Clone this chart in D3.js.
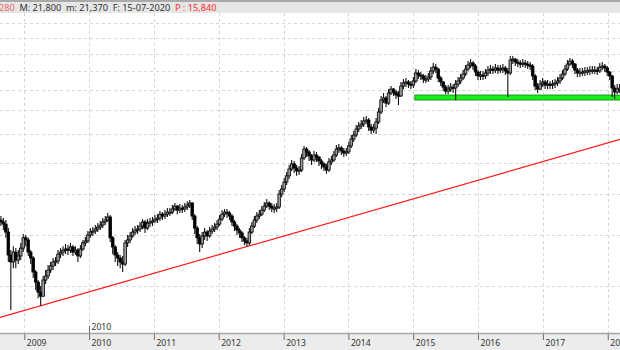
<!DOCTYPE html>
<html>
<head>
<meta charset="utf-8">
<script src="https://cdn.jsdelivr.net/npm/d3@7"></script>
<style>
  html, body { margin: 0; padding: 0; background: #fff; overflow: hidden; }
  svg { display: block; font-family: "Noto Sans", "DejaVu Sans", sans-serif; }
</style>
</head>
<body>
<svg id="chart" width="620" height="350"></svg>
<script>
// Two-week OHLC bars, first bar dated below; open of each bar is the prior close.
const firstBar = "2008-08-22";
const barDays = 14;
const firstOpen = 10.95;

const closes = [
  10.85, 10.74, 10.34, 9.27, 8.97, 9.40, 9.05, 9.23, 9.58, 10.06,
  9.96, 9.40, 9.14, 8.55, 8.15, 7.77, 7.62, 8.23, 8.39, 8.63,
  8.80, 8.97, 9.01, 9.31, 9.40, 9.49, 9.54, 9.49, 9.63, 9.40,
  9.49, 9.23, 9.54, 9.82, 9.91, 10.20, 10.34, 10.39, 10.49, 10.59,
  10.69, 10.85, 10.95, 11.11, 10.06, 9.63, 9.27, 9.14, 8.97, 8.88,
  9.82, 9.96, 10.15, 10.34, 10.44, 10.49, 10.64, 10.85, 10.54, 10.79,
  10.85, 10.90, 11.00, 11.05, 11.26, 11.16, 11.26, 11.37, 11.37, 11.54,
  11.70, 11.48, 11.59, 11.54, 11.65, 11.76, 11.87, 11.16, 10.54, 10.06,
  9.77, 10.15, 10.34, 10.15, 10.39, 10.49, 10.59, 10.74, 11.00, 11.26,
  11.37, 11.32, 11.16, 10.85, 10.64, 10.44, 10.30, 10.06, 9.91, 9.82,
  10.34, 10.64, 10.95, 11.16, 11.26, 11.48, 11.70, 11.87, 11.70, 11.59,
  11.59, 11.65, 12.39, 12.69, 13.12, 13.51, 13.96, 14.30, 14.03, 13.83,
  13.89, 14.71, 15.35, 15.14, 14.85, 14.57, 14.92, 14.78, 14.50, 14.30,
  14.09, 13.89, 14.43, 14.57, 14.92, 15.35, 15.43, 15.21, 15.06, 15.14,
  15.58, 16.10, 16.41, 16.88, 17.13, 17.29, 17.54, 17.62, 17.05, 16.80,
  16.96, 17.46, 18.31, 19.38, 19.57, 19.10, 20.04, 20.42, 20.13, 19.85,
  19.76, 20.71, 21.02, 21.12, 20.91, 20.81, 21.22, 22.04, 21.83, 21.73,
  21.42, 21.42, 21.63, 22.25, 22.67, 22.46, 21.52, 21.12, 20.61, 20.22,
  20.42, 20.61, 20.52, 20.91, 21.22, 21.52, 21.94, 22.46, 22.89, 23.11,
  22.78, 22.14, 21.73, 21.83, 21.73, 22.04, 22.35, 22.46, 22.35, 22.57,
  22.35, 22.46, 22.57, 22.25, 22.04, 23.44, 23.55, 23.22, 23.11, 23.00,
  23.11, 23.00, 22.89, 22.78, 21.73, 20.71, 20.42, 20.91, 21.12, 20.81,
  20.91, 20.81, 20.91, 21.02, 21.22, 21.52, 21.94, 22.46, 23.00, 23.33,
  23.00, 22.35, 22.04, 22.14, 22.14, 22.25, 22.25, 22.35, 22.35, 22.35,
  22.25, 22.67, 22.78, 22.57, 22.14, 21.73, 20.52, 20.13, 20.42, 20.52
];

const highs = [
  11.16, 11.05, 10.95, 10.54, 9.49, 9.67, 9.58, 9.49, 9.82, 10.25,
  10.20, 10.06, 9.49, 9.23, 8.63, 8.23, 8.00, 8.39, 8.63, 8.84,
  8.97, 9.14, 9.18, 9.49, 9.58, 9.67, 9.77, 9.72, 9.82, 9.72,
  9.67, 9.58, 9.72, 9.96, 10.10, 10.39, 10.54, 10.59, 10.69, 10.79,
  10.90, 11.05, 11.16, 11.32, 11.21, 10.15, 9.72, 9.40, 9.27, 9.23,
  9.96, 10.20, 10.34, 10.54, 10.64, 10.69, 10.85, 11.00, 10.95, 11.00,
  11.05, 11.11, 11.21, 11.26, 11.43, 11.37, 11.48, 11.59, 11.59, 11.76,
  11.87, 11.76, 11.82, 11.76, 11.87, 11.98, 12.04, 11.93, 11.26, 10.64,
  10.25, 10.34, 10.54, 10.44, 10.59, 10.69, 10.79, 10.95, 11.21, 11.48,
  11.54, 11.54, 11.43, 11.26, 10.95, 10.74, 10.54, 10.39, 10.15, 10.06,
  10.54, 10.85, 11.16, 11.37, 11.48, 11.70, 11.93, 12.10, 11.98, 11.87,
  11.82, 11.87, 12.63, 12.93, 13.38, 13.76, 14.23, 14.57, 14.50, 14.23,
  14.16, 14.99, 15.58, 15.50, 15.28, 14.99, 15.21, 15.14, 14.85, 14.64,
  14.43, 14.30, 14.71, 14.85, 15.21, 15.65, 15.72, 15.58, 15.43, 15.43,
  15.87, 16.41, 16.72, 17.21, 17.46, 17.62, 17.88, 17.96, 17.79, 17.29,
  17.29, 17.79, 18.66, 19.76, 20.04, 19.76, 20.42, 20.71, 20.52, 20.32,
  20.22, 21.12, 21.42, 21.52, 21.32, 21.22, 21.63, 22.46, 22.35, 22.14,
  21.94, 21.83, 22.04, 22.67, 23.11, 23.00, 22.57, 21.73, 21.22, 20.81,
  20.81, 21.02, 20.91, 21.32, 21.63, 21.94, 22.35, 22.89, 23.33, 23.55,
  23.33, 23.00, 22.35, 22.25, 22.25, 22.46, 22.78, 22.89, 22.78, 23.00,
  22.89, 22.89, 23.00, 22.78, 22.57, 23.90, 23.90, 23.67, 23.55, 23.44,
  23.55, 23.44, 23.33, 23.22, 23.00, 21.94, 21.02, 21.32, 21.52, 21.32,
  21.32, 21.22, 21.32, 21.42, 21.63, 21.94, 22.35, 22.89, 23.44, 23.67,
  23.55, 23.11, 22.57, 22.57, 22.57, 22.67, 22.67, 22.78, 22.78, 22.78,
  22.67, 23.11, 23.22, 23.00, 22.78, 22.25, 21.83, 20.81, 20.91, 20.91
];

const lows = [
  10.64, 10.44, 10.06, 8.97, 7.14, 8.71, 8.71, 8.88, 9.05, 9.40,
  9.67, 9.23, 8.88, 8.31, 7.85, 7.55, 7.28, 7.62, 8.08, 8.27,
  8.51, 8.63, 8.80, 8.88, 9.14, 9.23, 9.31, 9.27, 9.36, 9.23,
  9.27, 8.97, 9.14, 9.45, 9.67, 9.82, 10.06, 10.15, 10.25, 10.34,
  10.44, 10.54, 10.69, 10.85, 9.86, 9.31, 8.97, 8.80, 8.71, 8.55,
  8.80, 9.63, 9.82, 10.06, 10.20, 10.25, 10.34, 10.49, 10.30, 10.44,
  10.59, 10.64, 10.79, 10.79, 10.90, 10.95, 11.00, 11.11, 11.16, 11.26,
  11.43, 11.26, 11.32, 11.32, 11.37, 11.48, 11.59, 10.95, 10.25, 9.77,
  9.40, 9.58, 9.96, 9.91, 10.06, 10.25, 10.34, 10.44, 10.64, 10.90,
  11.11, 11.05, 10.95, 10.64, 10.39, 10.20, 10.06, 9.86, 9.72, 9.65,
  9.72, 10.25, 10.54, 10.79, 11.00, 11.16, 11.37, 11.59, 11.48, 11.37,
  11.32, 11.37, 11.54, 12.21, 12.51, 12.93, 13.31, 13.83, 13.70, 13.51,
  13.57, 13.76, 14.57, 14.78, 14.50, 14.23, 14.43, 14.43, 14.16, 13.96,
  13.83, 13.64, 13.76, 14.23, 14.43, 14.78, 15.06, 14.92, 14.78, 14.85,
  14.99, 15.43, 15.87, 16.25, 16.64, 16.88, 17.05, 17.29, 16.72, 16.49,
  16.56, 16.49, 17.29, 18.14, 19.10, 18.75, 18.93, 19.85, 19.76, 19.48,
  18.93, 19.66, 20.42, 20.61, 20.52, 20.42, 20.52, 21.02, 21.42, 21.32,
  21.02, 21.02, 21.12, 21.32, 21.94, 22.04, 21.12, 20.71, 20.22, 19.94,
  19.94, 20.13, 20.04, 19.38, 20.61, 20.91, 21.32, 21.73, 22.25, 22.57,
  22.35, 21.73, 21.32, 21.32, 21.32, 21.42, 21.73, 21.94, 21.94, 22.04,
  21.94, 22.04, 22.04, 21.83, 19.66, 21.83, 23.00, 22.78, 22.67, 22.57,
  22.67, 22.57, 22.46, 22.35, 21.32, 20.32, 20.04, 20.32, 20.61, 20.42,
  20.42, 20.42, 20.42, 20.52, 20.71, 20.91, 21.32, 21.73, 22.25, 22.78,
  22.57, 21.94, 21.63, 21.63, 21.73, 21.73, 21.83, 21.83, 21.94, 21.94,
  21.83, 22.04, 22.35, 22.14, 21.73, 21.32, 19.66, 19.48, 19.94, 20.04
];

// Price levels with a horizontal grid line
const gridLevels = [8, 10.2, 12.4, 14.35, 16.5, 18.5, 20.3, 22.25, 24.1, 26, 28];
// Year labels on the time axis
const yearLabels = ["2009", "2010", "2011", "2012", "2013", "2014", "2015", "2016", "2017", "2018"];
// Period marker shown above the axis
const periodMarkers = ["2010"];
// Support trend line through two swing lows [date, price]
const trendAnchors = [["2009-04-03", 7.28], ["2012-06-08", 9.65]];
// Horizontal support zone
const supportStart = "2015-01-10";
const supportLow = 19.38;
const supportHigh = 19.85;
// Status bar readout
const headerItems = ["280", "M: 21,800", "m: 21,370", "F: 15-07-2020", "P : 15,840"];

const W = 620, H = 350;
const plotTop = 13, plotBottom = 333;
const parse = d3.utcParse("%Y-%m-%d");

const x = d3.scaleUtc()
  .domain([parse("2008-08-17"), parse("2018-03-11")])
  .range([0, W]);
const y = d3.scaleLog()
  .domain([8, 28])
  .range([286, 22.7]);

const bars = closes.map((c, i) => ({
  date: d3.utcDay.offset(parse(firstBar), i * barDays),
  open: i === 0 ? firstOpen : closes[i - 1],
  high: highs[i],
  low: lows[i],
  close: c
}));

const svg = d3.select("#chart");

svg.append("defs").append("clipPath").attr("id", "plotClip")
  .append("rect").attr("x", 0).attr("y", plotTop).attr("width", W).attr("height", plotBottom - plotTop);

// background
svg.append("rect").attr("x", 0).attr("y", 0).attr("width", W).attr("height", H).attr("fill", "#fff");

// grid
const grid = svg.append("g").attr("clip-path", "url(#plotClip)");
grid.selectAll("line.h").data(gridLevels).join("line")
  .attr("class", "h")
  .attr("x1", 0).attr("x2", W)
  .attr("y1", d => Math.round(y(d)) + 0.5).attr("y2", d => Math.round(y(d)) + 0.5)
  .attr("stroke", "#d6d6d6").attr("stroke-width", 1).attr("stroke-dasharray", "3,3");
const yearDates = yearLabels.map(s => parse(s + "-01-01"));
grid.selectAll("line.v").data(yearDates).join("line")
  .attr("class", "v")
  .attr("x1", d => Math.round(x(d)) + 0.5).attr("x2", d => Math.round(x(d)) + 0.5)
  .attr("y1", plotTop).attr("y2", plotBottom)
  .attr("stroke", "#d6d6d6").attr("stroke-width", 1).attr("stroke-dasharray", "3,3");

const plot = svg.append("g").attr("clip-path", "url(#plotClip)");

// support zone
plot.append("rect")
  .attr("x", x(parse(supportStart)))
  .attr("width", W - x(parse(supportStart)) + 2)
  .attr("y", y(supportHigh))
  .attr("height", y(supportLow) - y(supportHigh))
  .attr("fill", "#16f016")
  .attr("stroke", "#1a7a1a")
  .attr("stroke-width", 0.8);

// trend line, extended across the plot
const p1 = [x(parse(trendAnchors[0][0])), y(trendAnchors[0][1])];
const p2 = [x(parse(trendAnchors[1][0])), y(trendAnchors[1][1])];
const slope = (p2[1] - p1[1]) / (p2[0] - p1[0]);
plot.append("line")
  .attr("x1", 0).attr("y1", p1[1] - slope * p1[0])
  .attr("x2", W).attr("y2", p1[1] + slope * (W - p1[0]))
  .attr("stroke", "#ff1a1a").attr("stroke-width", 1.2);

// candles
const candles = plot.selectAll("g.bar").data(bars).join("g").attr("class", "bar");
candles.append("line")
  .attr("x1", d => x(d.date)).attr("x2", d => x(d.date))
  .attr("y1", d => y(d.high)).attr("y2", d => y(d.low))
  .attr("stroke", "#111").attr("stroke-width", 1.1);
candles.append("rect")
  .attr("x", d => x(d.date) - 1.3)
  .attr("width", 2.6)
  .attr("y", d => y(Math.max(d.open, d.close)))
  .attr("height", d => Math.max(1.2, Math.abs(y(d.open) - y(d.close))))
  .attr("fill", d => d.close >= d.open ? "#9a9a9a" : "#000")
  .attr("stroke", "#000").attr("stroke-width", 0.8);

// time axis band
svg.append("rect").attr("x", 0).attr("y", plotBottom).attr("width", W).attr("height", H - plotBottom).attr("fill", "#ececec");
const xAxis = d3.axisBottom(x).tickValues(yearDates).tickSize(7).tickFormat(d3.utcFormat("%Y"));
const axisG = svg.append("g").attr("transform", `translate(0,${plotBottom})`).call(xAxis);
axisG.select(".domain").remove();
axisG.selectAll(".tick line").attr("stroke", "#6e6e6e");
axisG.selectAll(".tick text")
  .attr("text-anchor", "start").attr("x", 2).attr("y", 7).attr("dy", "0.71em")
  .attr("fill", "#333").attr("font-size", 8.6).attr("font-family", "Noto Sans, sans-serif");
svg.append("line").attr("x1", 0).attr("x2", W).attr("y1", plotBottom + 0.5).attr("y2", plotBottom + 0.5)
  .attr("stroke", "#a4a4a4").attr("stroke-width", 1.6);

// period marker above the axis
const markers = svg.selectAll("g.marker").data(periodMarkers).join("g").attr("class", "marker")
  .attr("transform", d => `translate(${Math.round(x(parse(d + "-01-01"))) + 0.5},${plotBottom})`);
markers.append("line").attr("y1", -7).attr("y2", 0).attr("stroke", "#6e6e6e");
markers.append("text").attr("x", 2).attr("y", -3.5).text(d => d)
  .attr("fill", "#333").attr("font-size", 8.6);

// status bar
svg.append("rect").attr("x", 0).attr("y", 0).attr("width", W).attr("height", plotTop).attr("fill", "#e6e6e6");
svg.append("rect").attr("x", 0).attr("y", 0).attr("width", W).attr("height", 2).attr("fill", "#a9a9a9");
const headerColors = ["#e86a6a", "#333", "#333", "#333", "#ff2a2a"];
let hx = -1;
headerItems.forEach((t, i) => {
  const tx = svg.append("text").attr("x", hx).attr("y", 10.5).text(t)
    .attr("fill", headerColors[i]).attr("font-size", 9.2);
  hx += tx.node().getComputedTextLength() + 4.6;
});
</script>
</body>
</html>
